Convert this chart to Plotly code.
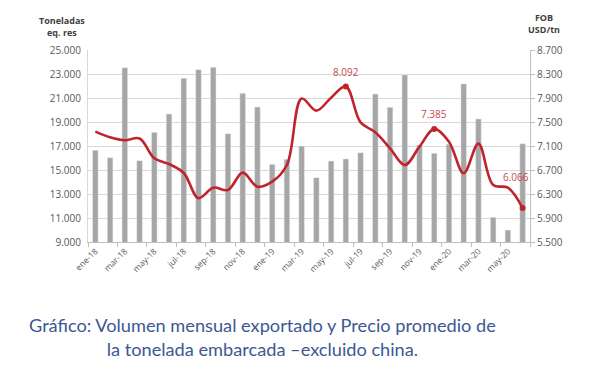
import plotly.graph_objects as go

meses = ["ene", "feb", "mar", "abr", "may", "jun", "jul", "ago", "sep", "oct", "nov", "dic"]
categorias = [f"{m}-18" for m in meses] + [f"{m}-19" for m in meses] + [f"{m}-20" for m in meses[:6]]

volumen_ton = [16640, 16030, 23530, 15780, 18140, 19670, 22640, 23360, 23560, 18030, 21390, 20250,
               15470, 15890, 17000, 14360, 15750, 15920, 16440, 21330, 20220, 22920,
               17080, 16390, 17140, 22170, 19250, 11060, 10000, 17190]

precio_fob = [7340, 7245, 7195, 7225, 6895, 6800, 6650, 6230, 6405, 6367, 6656, 6422,
              6505, 6783, 7890, 7689, 7905, 8092, 7494, 7328, 7061, 6783,
              7089, 7385, 7172, 6645, 7139, 6450, 6405, 6066]

etiquetas_idx = [17, 23, 29]
etiquetas_txt = ["8.092", "7.385", "6.066"]

fig = go.Figure()
fig.add_trace(go.Bar(x=categorias, y=volumen_ton, marker_color="#a6a6a6", width=0.38,
                     yaxis="y", showlegend=False))
fig.add_trace(go.Scatter(x=categorias, y=precio_fob, mode="lines",
                         line=dict(color="#c0232b", width=2.6, shape="spline", smoothing=1.0),
                         yaxis="y2", showlegend=False))
fig.add_trace(go.Scatter(x=[categorias[i] for i in etiquetas_idx],
                         y=[precio_fob[i] for i in etiquetas_idx], mode="markers",
                         marker=dict(color="#c0232b", size=6), yaxis="y2", showlegend=False))

shifts = [(0, 14), (0, 15), (-7, 31)]
for i, t, (dx, dy) in zip(etiquetas_idx, etiquetas_txt, shifts):
    fig.add_annotation(x=categorias[i], y=precio_fob[i], yref="y2", text=t, showarrow=False,
                       xshift=dx, yshift=dy,
                       font=dict(family="Open Sans", size=10, color="#c8474d"))

tick_font = dict(family="Open Sans", size=10, color="#595959")
fig.update_layout(
    width=600, height=376,
    margin=dict(l=88, r=70, t=50, b=134),
    paper_bgcolor="white", plot_bgcolor="white",
    separators=",.",
    xaxis=dict(type="category", range=[-0.5, len(categorias) - 0.5], autorange=False,
               dtick=2, tickangle=-45, tickson="boundaries",
               ticks="outside", ticklen=4, tickcolor="#bfbfbf",
               showline=True, linecolor="#bfbfbf", linewidth=1, showgrid=False,
               automargin=False,
               tickfont=dict(family="Open Sans", size=8.5, color="#595959")),
    yaxis=dict(range=[9000, 25000], dtick=2000, tick0=9000, tickformat=",d",
               showgrid=True, gridcolor="#d9d9d9", gridwidth=1, automargin=False,
               showline=True, linecolor="#d9d9d9", zeroline=False,
               ticks="", ticklabelstandoff=4, tickfont=tick_font),
    yaxis2=dict(range=[5500, 8700], dtick=400, tick0=5500, tickformat=",d",
                overlaying="y", side="right", showgrid=False, zeroline=False,
                automargin=False,
                showline=True, linecolor="#bfbfbf", linewidth=1,
                ticks="outside", ticklen=4, tickcolor="#bfbfbf", tickfont=tick_font),
)

fig.add_annotation(xref="paper", yref="paper", x=-0.059, y=1.12, xanchor="center", yanchor="middle",
                   text="<b>Toneladas<br>eq. res</b>",
                   showarrow=False, font=dict(family="Open Sans", size=9, color="#404040"),
                   align="center")
fig.add_annotation(xref="paper", yref="paper", x=1.032, y=1.14, xanchor="center", yanchor="middle",
                   text="<b>FOB<br>USD/tn</b>",
                   showarrow=False, font=dict(family="Open Sans", size=9, color="#404040"),
                   align="center")
fig.add_annotation(xref="paper", yref="paper", x=0.394, y=-0.497, xanchor="center", yanchor="middle",
                   text="Gráfico: Volumen mensual exportado y Precio promedio de<br>la tonelada embarcada –excluido china.",
                   showarrow=False, align="center",
                   font=dict(family="Lato", size=18.2, color="#3b5893"))

fig.write_html("out.html", config={"displayModeBar": False},
               post_script="document.body.style.margin='0';document.body.style.overflow='hidden';"
                           "document.documentElement.style.overflow='hidden';")
